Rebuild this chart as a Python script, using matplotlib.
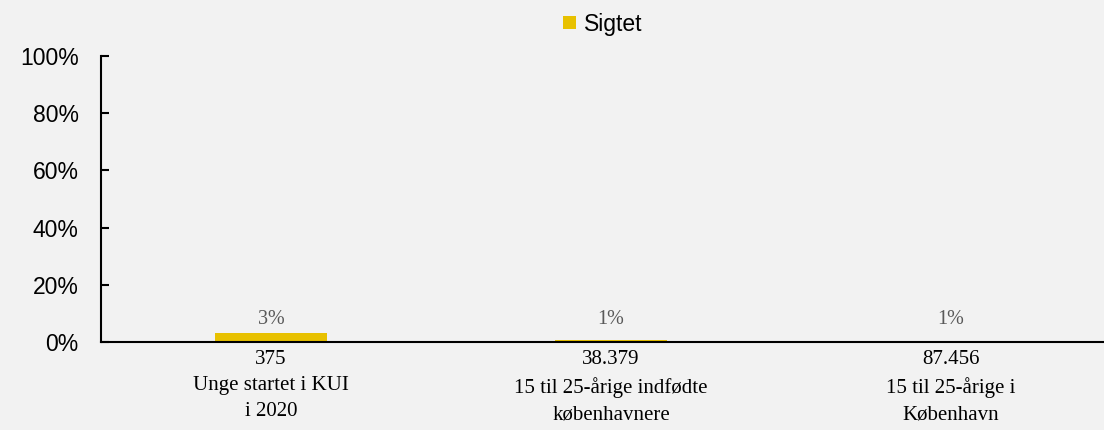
import matplotlib.pyplot as plt
from matplotlib.ticker import PercentFormatter

kategorier = ["375\nUnge startet i KUI\ni 2020",
              "38.379\n15 til 25-årige indfødte\nkøbenhavnere",
              "87.456\n15 til 25-årige i\nKøbenhavn"]
sigtet = [0.031, 0.006, 0.005]
etiketter = ["3%", "1%", "1%"]

bg = '#f2f2f2'
gul = '#e8c100'

fig = plt.figure(figsize=(11.04, 4.30), dpi=100, facecolor=bg)
# aksen fortsætter lidt ud over højre kant, som i originalen
ax = fig.add_axes([101 / 1104, 0.2047, 1020 / 1104, 0.6652], facecolor=bg)

x = range(len(kategorier))
bars = ax.bar(x, sigtet, width=0.33, color=gul, label='Sigtet')

for b, txt in zip(bars, etiketter):
    ax.text(b.get_x() + b.get_width() / 2, 0.063, txt,
            ha='center', va='baseline', fontsize=14.5, color='#595959',
            family='Liberation Serif')

ax.set_xlim(-0.5, 2.5)
ax.set_ylim(0, 1)
ax.set_yticks([0, 0.2, 0.4, 0.6, 0.8, 1.0])
ax.yaxis.set_major_formatter(PercentFormatter(1.0, decimals=0))
ax.set_xticks(list(x))
ax.set_xticklabels(kategorier, family='Liberation Serif', fontsize=15,
                   linespacing=1.5)
ax.tick_params(axis='x', length=0, pad=6)
ax.tick_params(axis='y', direction='in', length=6, width=1.5, pad=16,
               labelsize=16.5)
for lbl in ax.get_yticklabels():
    lbl.set_family('Liberation Sans')

for s in ['top', 'right']:
    ax.spines[s].set_visible(False)
ax.spines['left'].set_linewidth(1.5)
ax.spines['bottom'].set_linewidth(1.5)

fig.legend(loc='center', bbox_to_anchor=(0.546, 0.944), frameon=False,
           prop={'family': 'Liberation Sans', 'size': 16.5},
           handlelength=0.55, handleheight=0.55, handletextpad=0.35)

fig.savefig('out.png', dpi=100, facecolor=bg)
